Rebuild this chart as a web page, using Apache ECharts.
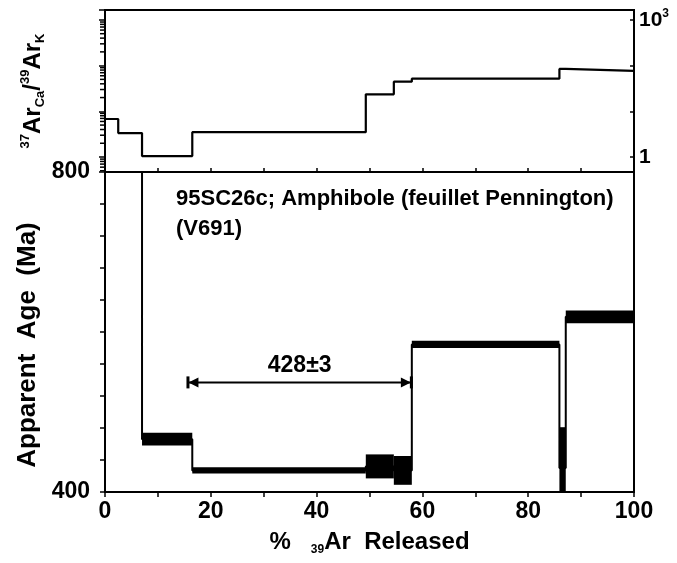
<!DOCTYPE html>
<html>
<head>
<meta charset="utf-8">
<script src="https://cdn.jsdelivr.net/npm/echarts@6/dist/echarts.min.js"></script>
<style>
  html, body { margin: 0; padding: 0; background: #fff; }
  #chart { width: 677px; height: 563px; }
</style>
</head>
<body>
<div id="chart"></div>
<script>
// step boundaries, % 39Ar released (cumulative)
const stepEdges = [0, 2.5, 7.0, 16.5, 49.3, 54.6, 58.0, 85.9, 87.1, 100];
// 37ArCa/39ArK per step
const caK = [6.8, 3.35, 1.05, 3.5, 23.6, 44.5, 51.8, 84.5, 76.4];
// apparent age (Ma) and half height of the error box per step
const ageMa = [1150, 950, 466, 427, 432, 427, 584.5, 430, 619];
const ageErr = [20, 20, 8, 4, 15, 18, 4.5, 51, 8];

// plateau marker
const plateauRange = [15.4, 58.2];
const plateauArrowAge = 537;
const plateauLabel = '428±3';

// tick labels
const xLabelValues = [0, 20, 40, 60, 80, 100];
const ageLabelValues = [400, 800];
const ratioLabelValues = [1, 1000];
const ratioMinorTicks = [0.5, 0.6, 0.7, 0.8, 0.9,
  2, 3, 4, 5, 6, 7, 8, 9,
  20, 30, 40, 50, 60, 70, 80, 90,
  200, 300, 400, 500, 600, 700, 800, 900];

const FONT = 'Liberation Sans, Arial, sans-serif';
const BLACK = '#000';

function stepPoints(vals) {
  const pts = [];
  vals.forEach((v, i) => {
    pts.push([stepEdges[i], v]);
    pts.push([stepEdges[i + 1], v]);
  });
  return pts;
}

const boxData = ageMa.map((a, i) => [stepEdges[i], stepEdges[i + 1], a - ageErr[i], a + ageErr[i]]);

function isAt(v, list) {
  return list.some(t => Math.abs(v - t) < 1e-6 * Math.max(1, t));
}

const axisLine = { show: true, lineStyle: { color: BLACK, width: 2 } };

const chart = echarts.init(document.getElementById('chart'));

const option = {
  animation: false,
  textStyle: { fontFamily: FONT, color: BLACK },
  title: {
    text: '95SC26c; Amphibole (feuillet Pennington)\n(V691)',
    left: 176,
    top: 184,
    padding: 0,
    textStyle: { fontFamily: FONT, fontSize: 22, fontWeight: 'bold', color: BLACK, lineHeight: 30 }
  },
  grid: [
    { left: 105, right: 43, top: 10, height: 162, show: true, borderColor: BLACK, borderWidth: 2 },
    { left: 105, right: 43, top: 172, height: 320, show: true, borderColor: BLACK, borderWidth: 2 }
  ],
  xAxis: [
    {
      gridIndex: 0, type: 'value', min: 0, max: 100, interval: 10,
      axisLine,
      axisTick: { inside: true, length: 4, lineStyle: { color: BLACK, width: 1.5 } },
      axisLabel: { show: false },
      splitLine: { show: false }
    },
    {
      gridIndex: 1, type: 'value', min: 0, max: 100, interval: 10,
      axisLine,
      axisTick: { length: 5, lineStyle: { color: BLACK, width: 1.5 } },
      axisLabel: {
        color: BLACK, fontSize: 23, fontWeight: 'bold', fontFamily: FONT, margin: 8,
        formatter: v => isAt(v, xLabelValues) ? String(v) : ''
      },
      splitLine: { show: false },
      name: '{p|%}   {s|39}{p|Ar}  {p|Released}',
      nameLocation: 'middle',
      nameGap: 36,
      nameTextStyle: {
        fontFamily: FONT, fontSize: 24, fontWeight: 'bold', color: BLACK,
        rich: {
          p: { fontFamily: FONT, fontSize: 24, fontWeight: 'bold', color: BLACK, lineHeight: 28, verticalAlign: 'middle' },
          s: { fontFamily: FONT, fontSize: 12, fontWeight: 'bold', color: BLACK, lineHeight: 12, verticalAlign: 'bottom' }
        }
      }
    }
  ],
  yAxis: [
    {
      gridIndex: 0, type: 'log', logBase: 10, min: 0.47, max: 1650, position: 'left',
      axisLine,
      axisTick: { length: 6, lineStyle: { color: BLACK, width: 1.5 } },
      axisLabel: { show: false },
      splitLine: { show: false },
      name: '{sup|37}{b|Ar}{sub|Ca}{b|/}{sup|39}{b|Ar}{sub|K}',
      nameLocation: 'middle',
      nameRotate: 90,
      nameGap: 58,
      nameTextStyle: {
        rich: {
          b: { fontFamily: FONT, fontSize: 24, fontWeight: 'bold', color: BLACK, lineHeight: 28, verticalAlign: 'middle' },
          sup: { fontFamily: FONT, fontSize: 13, fontWeight: 'bold', color: BLACK, lineHeight: 13, verticalAlign: 'top' },
          sub: { fontFamily: FONT, fontSize: 13, fontWeight: 'bold', color: BLACK, lineHeight: 13, verticalAlign: 'bottom' }
        }
      }
    },
    {
      gridIndex: 0, type: 'log', logBase: 10, min: 0.47, max: 1650, position: 'right',
      axisLine,
      axisTick: { inside: true, length: 4, lineStyle: { color: BLACK, width: 1.5 } },
      axisLabel: {
        margin: 5,
        formatter: v => {
          if (!isAt(v, ratioLabelValues)) return '';
          return Math.abs(v - 1) < 1e-6 ? '{n|1}' : '{n|10}{sup|3}';
        },
        rich: {
          n: { fontFamily: FONT, fontSize: 21, fontWeight: 'bold', color: BLACK, lineHeight: 24, verticalAlign: 'middle' },
          sup: { fontFamily: FONT, fontSize: 12, fontWeight: 'bold', color: BLACK, lineHeight: 12, verticalAlign: 'top' }
        }
      },
      splitLine: { show: false }
    },
    {
      gridIndex: 1, type: 'value', min: 400, max: 800, interval: 40,
      axisLine,
      axisTick: { length: 5, lineStyle: { color: BLACK, width: 1.5 } },
      axisLabel: {
        color: BLACK, fontSize: 23, fontWeight: 'bold', fontFamily: FONT, margin: 15,
        formatter: v => isAt(v, ageLabelValues) ? String(v) : ''
      },
      splitLine: { show: false },
      name: 'Apparent  Age  (Ma)',
      nameLocation: 'middle',
      nameRotate: 90,
      nameGap: 62,
      nameTextStyle: { fontFamily: FONT, fontSize: 26, fontWeight: 'bold', color: BLACK, padding: [0, 26, 0, 0] }
    }
  ],
  series: [
    {
      name: 'CaK',
      type: 'line',
      xAxisIndex: 0, yAxisIndex: 0,
      data: stepPoints(caK),
      symbol: 'none',
      lineStyle: { color: BLACK, width: 2.2 },
      clip: true
    },
    {
      name: 'minorTicks',
      type: 'custom',
      xAxisIndex: 0, yAxisIndex: 0,
      data: ratioMinorTicks.map(v => [0, v]),
      encode: { x: 0, y: 1 },
      silent: true,
      renderItem: (params, api) => {
        const p = api.coord([0, api.value(1)]);
        return {
          type: 'line',
          shape: { x1: p[0] - 5, y1: p[1], x2: p[0], y2: p[1] },
          style: { stroke: BLACK, lineWidth: 1.5 }
        };
      }
    },
    {
      name: 'ageLine',
      type: 'line',
      xAxisIndex: 1, yAxisIndex: 2,
      data: stepPoints(ageMa),
      symbol: 'none',
      lineStyle: { color: BLACK, width: 2 },
      clip: true
    },
    {
      name: 'ageBoxes',
      type: 'custom',
      xAxisIndex: 1, yAxisIndex: 2,
      data: boxData,
      encode: { x: [0, 1], y: [2, 3] },
      silent: true,
      renderItem: (params, api) => {
        const p0 = api.coord([api.value(0), api.value(3)]);
        const p1 = api.coord([api.value(1), api.value(2)]);
        const rect = echarts.graphic.clipRectByRect(
          { x: p0[0], y: p0[1], width: p1[0] - p0[0], height: p1[1] - p0[1] },
          { x: params.coordSys.x, y: params.coordSys.y, width: params.coordSys.width, height: params.coordSys.height }
        );
        if (!rect) return null;
        return { type: 'rect', shape: rect, style: { fill: BLACK } };
      }
    },
    {
      name: 'plateau',
      type: 'custom',
      xAxisIndex: 1, yAxisIndex: 2,
      data: [[plateauRange[0], plateauRange[1], plateauArrowAge]],
      encode: { x: [0, 1], y: 2 },
      silent: true,
      renderItem: (params, api) => {
        const a = api.coord([api.value(0), api.value(2)]);
        const b = api.coord([api.value(1), api.value(2)]);
        const y = a[1];
        const ah = 10, aw = 5;
        return {
          type: 'group',
          children: [
            { type: 'line', shape: { x1: a[0] + 2, y1: y, x2: b[0] - 2, y2: y }, style: { stroke: BLACK, lineWidth: 2 } },
            { type: 'rect', shape: { x: a[0], y: y - 6, width: 3, height: 12 }, style: { fill: BLACK } },
            { type: 'polygon', shape: { points: [[a[0] + 2, y], [a[0] + 2 + ah, y - aw], [a[0] + 2 + ah, y + aw]] }, style: { fill: BLACK } },
            { type: 'rect', shape: { x: b[0] - 3, y: y - 6, width: 3, height: 12 }, style: { fill: BLACK } },
            { type: 'polygon', shape: { points: [[b[0] - 2, y], [b[0] - 2 - ah, y - aw], [b[0] - 2 - ah, y + aw]] }, style: { fill: BLACK } },
            {
              type: 'text',
              x: (a[0] + b[0]) / 2, y: y - 17,
              style: {
                text: plateauLabel, fill: BLACK, fontFamily: FONT, fontSize: 23, fontWeight: 'bold',
                align: 'center', verticalAlign: 'middle'
              }
            }
          ]
        };
      }
    }
  ]
};

chart.setOption(option);
window.addEventListener('resize', () => chart.resize());
</script>
</body>
</html>
